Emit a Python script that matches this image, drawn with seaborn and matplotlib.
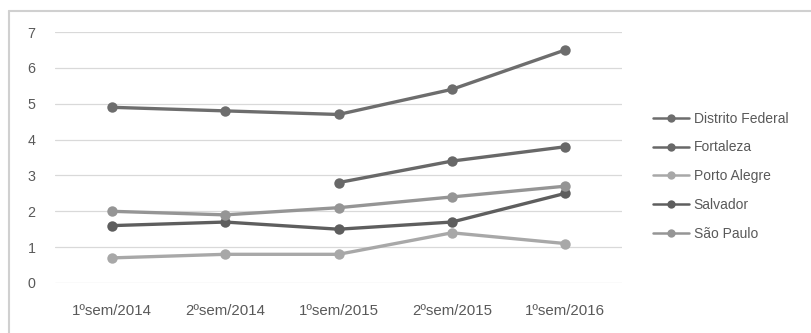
import matplotlib
matplotlib.use("Agg")
import matplotlib.pyplot as plt
from matplotlib.lines import Line2D
import numpy as np
import pandas as pd
import seaborn as sns

# Semesters on the x axis
semestres = ["1ºsem/2014", "2ºsem/2014", "1ºsem/2015", "2ºsem/2015", "1ºsem/2016"]

# Values per city (NaN where there is no value)
distrito_federal = [4.9, 4.8, 4.7, 5.4, 6.5]
fortaleza = [np.nan, np.nan, 2.8, 3.4, 3.8]
porto_alegre = [0.7, 0.8, 0.8, 1.4, 1.1]
salvador = [1.6, 1.7, 1.5, 1.7, 2.5]
sao_paulo = [2.0, 1.9, 2.1, 2.4, 2.7]

cidades = ["Distrito Federal", "Fortaleza", "Porto Alegre", "Salvador", "São Paulo"]
series = [distrito_federal, fortaleza, porto_alegre, salvador, sao_paulo]
cores = ["#6d6d6d", "#686868", "#a8a8a8", "#5e5e5e", "#959595"]

df = pd.concat(
    [pd.DataFrame({"semestre": semestres, "valor": vals, "cidade": nome})
     for nome, vals in zip(cidades, series)],
    ignore_index=True,
)
df["pos"] = df["semestre"].map({s: i for i, s in enumerate(semestres)})

sns.set_theme(style="white")
plt.rcParams["font.family"] = ["Liberation Sans", "DejaVu Sans"]
text_color = "#595959"

W, H = 811, 333
fig = plt.figure(figsize=(W / 100, H / 100), dpi=100)
ax = fig.add_axes([55 / W, (H - 283) / H, (622 - 55) / W, (283 - 32) / H])

sns.lineplot(
    data=df, x="pos", y="valor", hue="cidade", hue_order=cidades,
    palette=dict(zip(cidades, cores)), marker="o", markersize=7.5,
    markeredgewidth=0, linewidth=2.4, sort=False, ax=ax, legend=False,
)

ax.set_xlim(-0.5, len(semestres) - 0.5)
ax.set_ylim(0, 7)
ax.set_xticks(range(len(semestres)))
ax.set_xticklabels(semestres)
ax.set_yticks(range(0, 8))
ax.set_xlabel("")
ax.set_ylabel("")
ax.tick_params(axis="both", length=0, labelcolor=text_color)
ax.tick_params(axis="y", pad=14, labelsize=10.3)
ax.tick_params(axis="x", pad=15, labelsize=10.8)
ax.yaxis.grid(True, color="#d9d9d9", linewidth=0.9)
ax.xaxis.grid(False)
ax.set_axisbelow(True)
for s in ax.spines.values():
    s.set_visible(False)

handles = [
    Line2D([], [], color=c, linewidth=1.8, marker="o", markersize=6, markeredgewidth=0)
    for c in cores
]
leg = fig.legend(
    handles, cidades, loc="upper left", bbox_to_anchor=(647 / W, 1 - 106 / H),
    frameon=False, fontsize=10, labelcolor=text_color, handlelength=2.6,
    handletextpad=0.35, labelspacing=1.07, borderaxespad=0,
)

# Outer chart frame (left and top edges)
frame_color = "#d0d0d0"
fig.add_artist(Line2D([8.5 / W, 8.5 / W], [0, 1 - 10.5 / H],
                      transform=fig.transFigure, color=frame_color, linewidth=1.5))
fig.add_artist(Line2D([8.5 / W, 1], [1 - 10.5 / H, 1 - 10.5 / H],
                      transform=fig.transFigure, color=frame_color, linewidth=1.5))

fig.savefig("out.png", dpi=100, facecolor="white")
